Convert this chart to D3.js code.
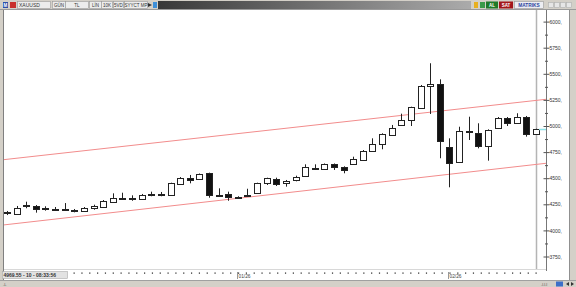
<!DOCTYPE html>
<html>
<head>
<meta charset="utf-8">
<script src="https://cdn.jsdelivr.net/npm/d3@7"></script>
<style>
  body { margin: 0; background: #d4d0c8; }
  svg { display: block; font-family: "Liberation Sans", Arial, sans-serif; }
</style>
</head>
<body>
<svg id="chart" width="576" height="287"></svg>
<script>
// XAUUSD daily candles
var dates = ["2025-11-28",
  "2025-12-01","2025-12-02","2025-12-03","2025-12-04","2025-12-05",
  "2025-12-08","2025-12-09","2025-12-10","2025-12-11","2025-12-12",
  "2025-12-15","2025-12-16","2025-12-17","2025-12-18","2025-12-19",
  "2025-12-22","2025-12-23","2025-12-24","2025-12-25","2025-12-26",
  "2025-12-29","2025-12-30","2025-12-31",
  "2026-01-01","2026-01-02",
  "2026-01-05","2026-01-06","2026-01-07","2026-01-08","2026-01-09",
  "2026-01-12","2026-01-13","2026-01-14","2026-01-15","2026-01-16",
  "2026-01-19","2026-01-20","2026-01-21","2026-01-22","2026-01-23",
  "2026-01-26","2026-01-27","2026-01-28","2026-01-29","2026-01-30",
  "2026-02-02","2026-02-03","2026-02-04","2026-02-05","2026-02-06",
  "2026-02-09","2026-02-10","2026-02-11","2026-02-12","2026-02-13"];

var open = [4176,4164,4240,4234,4210,4200,4200,4198,4189,4215,
  4227,4275,4310,4306,4304,4351,4345,4339,4444,4502,
  4492,4547,4336,4346,4317,4329,4355,4451,4495,4457,
  4483,4521,4598,4588,4633,4607,4636,4681,4763,4825,
  4914,5007,5057,5179,5386,5402,4802,4652,4952,4936,
  4808,4988,5080,5035,5089,4920];
var high = [4186,4234,4275,4243,4231,4224,4262,4205,4224,4246,
  4291,4355,4361,4336,4349,4371,4368,4457,4511,4531,
  4545,4553,4403,4371,4327,4399,4457,4505,4505,4483,
  4524,4633,4633,4641,4641,4614,4706,4770,4882,4930,
  5010,5118,5185,5393,5601,5447,4882,4993,5089,5026,
  4968,5086,5086,5122,5096,4974];
var low = [4147,4157,4212,4170,4189,4186,4192,4173,4186,4198,
  4224,4270,4306,4284,4298,4327,4327,4332,4438,4451,
  4488,4313,4332,4284,4313,4325,4349,4435,4425,4419,
  4470,4516,4579,4583,4579,4547,4631,4674,4758,4777,
  4909,5000,5000,5172,5115,4691,4413,4646,4866,4786,
  4668,4971,5000,5029,4898,4914];
var close = [4162,4217,4246,4208,4206,4204,4204,4186,4217,4231,
  4282,4313,4315,4310,4342,4346,4349,4451,4505,4483,
  4537,4339,4342,4317,4323,4336,4451,4499,4451,4476,
  4508,4604,4592,4633,4604,4579,4681,4763,4828,4923,
  4984,5057,5179,5386,5402,4856,4652,4952,4940,4808,
  4962,5080,5035,5089,4923,4969.55];

// trend channel, value at first and last candle
var upperChannel = [4681, 5245];
var lowerChannel = [4056, 4632];

var priceTicks = [3750,4000,4250,4500,4750,5000,5250,5500,5750,6000];
var minorTicks = [3875,4125,4375,4625,4875,5125,5375,5625,5875];
var dateTicks = ["2026-01-01","2026-02-02"];
var dateTickLabels = ["01/26","02/26"];

var toolbarItems = ["GÜN","TL","LİN","10K","5VD","SYYCT MP"];

var svg = d3.select("#chart");

var plotLeft = 4, plotRight = 546, plotTop = 10, plotBottom = 269;

var x = d3.scalePoint().domain(dates).range([7, 536]);
var y = d3.scaleLinear().domain([3750, 6000]).range([256.5, 21.6]);
var bw = 6;

// frame
svg.append("rect").attr("x", 0).attr("y", 0).attr("width", 576).attr("height", 287).attr("fill", "#d4d0c8");
svg.append("rect").attr("x", plotLeft).attr("y", plotTop).attr("width", 565).attr("height", 270).attr("fill", "#fff");
svg.append("line").attr("x1", 3.5).attr("x2", 3.5).attr("y1", plotTop).attr("y2", 280).attr("stroke", "#808080");
svg.append("line").attr("x1", 569.5).attr("x2", 569.5).attr("y1", plotTop).attr("y2", 280).attr("stroke", "#909090");
svg.append("line").attr("x1", plotLeft).attr("x2", plotRight).attr("y1", plotBottom + 0.5).attr("y2", plotBottom + 0.5).attr("stroke", "#d8d8d8");

svg.append("clipPath").attr("id", "plotclip")
  .append("rect").attr("x", plotLeft).attr("y", plotTop).attr("width", plotRight - plotLeft).attr("height", plotBottom - plotTop);

var plot = svg.append("g").attr("clip-path", "url(#plotclip)");

// cursor line
plot.append("line")
  .attr("x1", Math.round(x(dates[dates.length - 1])) + 0.5)
  .attr("x2", Math.round(x(dates[dates.length - 1])) + 0.5)
  .attr("y1", plotTop).attr("y2", plotBottom + 2)
  .attr("stroke", "#b4b4b4").attr("stroke-width", 1.5);

// channel lines, extended to both edges
[upperChannel, lowerChannel].forEach(function(ch) {
  var x0 = x(dates[0]), x1 = x(dates[dates.length - 1]);
  var y0 = y(ch[0]), y1 = y(ch[1]);
  var k = (y1 - y0) / (x1 - x0);
  plot.append("line")
    .attr("x1", plotLeft).attr("y1", y0 + k * (plotLeft - x0))
    .attr("x2", plotRight).attr("y2", y0 + k * (plotRight - x0))
    .attr("stroke", "#f28c8c").attr("stroke-width", 1);
});

var candles = dates.map(function(d, i) {
  return {date: d, o: open[i], h: high[i], l: low[i], c: close[i]};
});

var cg = plot.selectAll(".candle").data(candles).enter().append("g").attr("class", "candle");

cg.append("line")
  .attr("x1", function(d) { return Math.round(x(d.date)) + 0.5; })
  .attr("x2", function(d) { return Math.round(x(d.date)) + 0.5; })
  .attr("y1", function(d) { return y(d.h); })
  .attr("y2", function(d) { return y(d.l); })
  .attr("stroke", "#222").attr("stroke-width", 1);

cg.append("rect")
  .attr("x", function(d) { return Math.round(x(d.date)) - bw / 2 + 0.5; })
  .attr("y", function(d) { return Math.round(y(Math.max(d.o, d.c))) + 0.5; })
  .attr("width", bw)
  .attr("height", function(d) { return Math.max(1, Math.round(Math.abs(y(d.o) - y(d.c)))); })
  .attr("fill", function(d) { return d.c >= d.o ? "#fff" : "#111"; })
  .attr("stroke", "#222").attr("stroke-width", 1);

// last price marker
var lastY = Math.round(y(close[close.length - 1])) + 0.5;
svg.append("line").attr("x1", 539).attr("x2", 546).attr("y1", lastY).attr("y2", lastY)
  .attr("stroke", "#8fe3e8").attr("stroke-width", 1.5);

// price axis
svg.append("line").attr("x1", plotRight + 0.5).attr("x2", plotRight + 0.5).attr("y1", plotTop).attr("y2", plotBottom + 2)
  .attr("stroke", "#777");

var yAxis = svg.append("g")
  .attr("transform", "translate(" + (plotRight + 0.5) + ",0)")
  .call(d3.axisRight(y).tickValues(priceTicks).tickSize(3).tickPadding(0).tickFormat(function(d) { return d + ","; }));
yAxis.select(".domain").remove();
yAxis.selectAll("line").attr("x1", -3).attr("stroke", "#555");
yAxis.selectAll("text").attr("font-size", 5).attr("fill", "#333").attr("font-family", "Liberation Sans, Arial, sans-serif");

var yMinor = svg.append("g")
  .attr("transform", "translate(" + (plotRight + 0.5) + ",0)")
  .call(d3.axisRight(y).tickValues(minorTicks).tickSize(1.5).tickFormat(""));
yMinor.select(".domain").remove();
yMinor.selectAll("line").attr("x1", -1.5).attr("stroke", "#555");

// date axis row
var dotStep = 7.83;
svg.append("g").selectAll("rect").data(d3.range(0, 60)).enter().append("rect")
  .attr("x", function(i) { return 535.5 - i * dotStep; })
  .attr("y", 272.5).attr("width", 1.2).attr("height", 1.2).attr("fill", "#222");

dateTicks.forEach(function(d, i) {
  var xp = Math.round(x(d)) - 0.5;
  svg.append("line").attr("x1", xp).attr("x2", xp).attr("y1", 272).attr("y2", 279).attr("stroke", "#999");
  svg.append("text").attr("x", xp + 1).attr("y", 278.2).attr("font-size", 4.8).attr("fill", "#444")
    .text(dateTickLabels[i]);
});

// status box
svg.append("rect").attr("x", 2.5).attr("y", 271.5).attr("width", 65).attr("height", 7).attr("fill", "#e2e2e2").attr("stroke", "#aaa").attr("stroke-width", 0.6);
svg.append("text").attr("x", 3.5).attr("y", 277.3).attr("font-size", 5).attr("font-weight", "bold").attr("fill", "#333")
  .text(d3.format(".2f")(close[close.length - 1]) + " - 10 - 08:33:56");

// bottom bar
svg.append("rect").attr("x", 0).attr("y", 280).attr("width", 576).attr("height", 7).attr("fill", "#d4d0c8");
svg.append("line").attr("x1", 0).attr("x2", 576).attr("y1", 280.5).attr("y2", 280.5).attr("stroke", "#a0a0a0");
svg.append("text").attr("x", 3).attr("y", 285.5).attr("font-size", 4).attr("fill", "#555").text("-L");
svg.append("text").attr("x", 541).attr("y", 285.5).attr("font-size", 4).attr("fill", "#555").text("-l.l.l");
svg.append("rect").attr("x", 556).attr("y", 281.5).attr("width", 7).attr("height", 5).attr("fill", "#3d6fc8");
svg.append("path").attr("d", "M566,284 L569,282 L569,286 Z M574,284 L571,282 L571,286 Z").attr("fill", "#333");

// top toolbar
svg.append("rect").attr("x", 0).attr("y", 0).attr("width", 576).attr("height", plotTop).attr("fill", "#d4d0c8");
svg.append("line").attr("x1", 0).attr("x2", 576).attr("y1", plotTop - 0.5).attr("y2", plotTop - 0.5).attr("stroke", "#9a9a9a");
svg.append("rect").attr("x", 3).attr("y", 2).attr("width", 5).attr("height", 6).attr("fill", "#2c4fa8");
svg.append("text").attr("x", 3.6).attr("y", 7).attr("font-size", 4.5).attr("font-weight", "bold").attr("fill", "#fff").text("M");
svg.append("rect").attr("x", 10).attr("y", 2).attr("width", 6).attr("height", 6).attr("fill", "#c9302c");

svg.append("rect").attr("x", 17.5).attr("y", 1.5).attr("width", 33).attr("height", 7).attr("fill", "#ececec").attr("stroke", "#999").attr("stroke-width", 0.6);
svg.append("text").attr("x", 19).attr("y", 7).attr("font-size", 5).attr("fill", "#333").text("XAUUSD");

var boxX = [52, 65, 89, 101, 113, 124];
var boxW = [13, 23, 12, 11, 10, 23];
toolbarItems.forEach(function(t, i) {
  svg.append("rect").attr("x", boxX[i] + 0.5).attr("y", 1.5).attr("width", boxW[i]).attr("height", 7)
    .attr("fill", "#ececec").attr("stroke", "#999").attr("stroke-width", 0.6);
  svg.append("text").attr("x", boxX[i] + boxW[i] / 2 + 0.5).attr("y", 7).attr("text-anchor", "middle")
    .attr("font-size", 4.5).attr("fill", "#333").text(t);
});
svg.append("path").attr("d", "M148,3 L152,5 L148,7 Z").attr("fill", "#333");
svg.append("rect").attr("x", 153).attr("y", 2).attr("width", 4).attr("height", 6).attr("fill", "#3d8fd8");

var grad = svg.append("defs").append("linearGradient").attr("id", "barGrad");
grad.append("stop").attr("offset", "0%").attr("stop-color", "#383838");
grad.append("stop").attr("offset", "100%").attr("stop-color", "#ababab");
svg.append("rect").attr("x", 158).attr("y", 1).attr("width", 313).attr("height", 8).attr("fill", "url(#barGrad)");

svg.append("rect").attr("x", 474).attr("y", 2).attr("width", 4).attr("height", 6).attr("fill", "#e8b020");
svg.append("rect").attr("x", 480).attr("y", 2).attr("width", 5).attr("height", 6).attr("fill", "#3a9a4a");
svg.append("rect").attr("x", 486).attr("y", 1.5).attr("width", 12).attr("height", 7).attr("fill", "#1f7a2a");
svg.append("text").attr("x", 492).attr("y", 7).attr("text-anchor", "middle").attr("font-size", 4.5).attr("font-weight", "bold").attr("fill", "#fff").text("AL");
svg.append("rect").attr("x", 499).attr("y", 1.5).attr("width", 14).attr("height", 7).attr("fill", "#a3161a");
svg.append("text").attr("x", 506).attr("y", 7).attr("text-anchor", "middle").attr("font-size", 4.5).attr("font-weight", "bold").attr("fill", "#fff").text("SAT");
svg.append("rect").attr("x", 514.5).attr("y", 1.5).attr("width", 29).attr("height", 7).attr("fill", "#ededf2").attr("stroke", "#999").attr("stroke-width", 0.6);
svg.append("text").attr("x", 529).attr("y", 7).attr("text-anchor", "middle").attr("font-size", 4.8).attr("font-weight", "bold").attr("fill", "#2a46a0").text("MATRIKS");
[548, 554, 560, 566].forEach(function(bx) {
  svg.append("rect").attr("x", bx + 0.5).attr("y", 2.5).attr("width", 5).attr("height", 5).attr("fill", "#e6e6e6").attr("stroke", "#b0b0b0").attr("stroke-width", 0.6);
});
</script>
</body>
</html>
